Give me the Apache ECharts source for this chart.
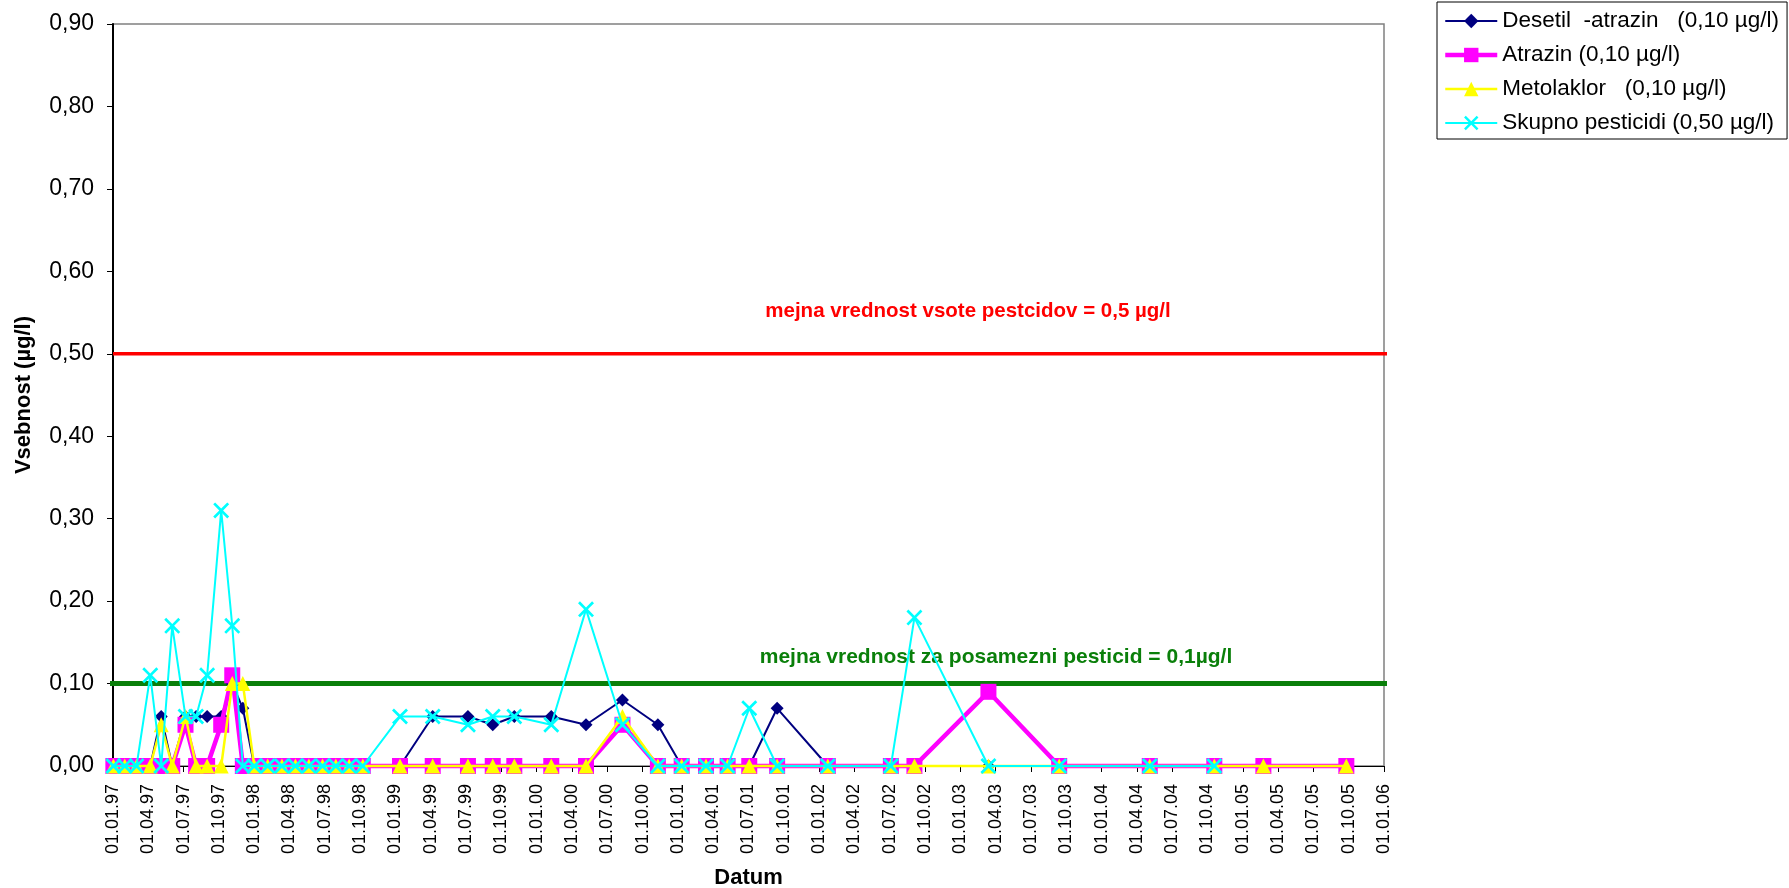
<!DOCTYPE html>
<html><head><meta charset="utf-8">
<script src="https://cdn.jsdelivr.net/npm/echarts@6/dist/echarts.min.js"></script>
<style>html,body{margin:0;padding:0;background:#fff}#c{width:1789px;height:888px}</style>
</head><body><div id="c"></div>
<script>
// sampling dates (dd.mm.yy)
const sampleDates = [
  '1997-01-02','1997-02-01','1997-03-01','1997-04-06','1997-05-04','1997-06-02',
  '1997-07-06','1997-08-03','1997-09-01','1997-10-07','1997-11-05','1997-12-02',
  '1998-01-01','1998-02-05','1998-03-12','1998-04-16','1998-05-21','1998-06-25',
  '1998-07-30','1998-09-03','1998-10-08',
  '1999-01-13','1999-04-06','1999-07-06','1999-09-09','1999-11-04',
  '2000-02-08','2000-05-07','2000-08-10','2000-11-10',
  '2001-01-11','2001-03-13','2001-05-08','2001-07-03','2001-09-14',
  '2002-01-24','2002-07-04','2002-09-04',
  '2003-03-13','2003-09-13','2004-05-04','2004-10-19','2005-02-22','2005-09-25'
];
const desetilAtrazin = [
  0,0,0,0,0.06,0, 0.06,0.06,0.06,0.06,0.10,0.07,
  0,0,0,0,0,0, 0,0,0,
  0,0.06,0.06,0.05,0.06,
  0.06,0.05,0.08,0.05,
  0,0,0,0,0.07,
  0,0,0,
  0,0,0,0,null,null
];
const atrazin = [
  0,0,0,0,0,0, 0.05,0,0,0.05,0.11,0,
  0,0,0,0,0,0, 0,0,0,
  0,0,0,0,0,
  0,0,0.05,0,
  0,0,0,0,0,
  0,0,0,
  0.09,0,0,0,0,0
];
const metolaklor = [
  0,0,0,0,0.05,0, 0.06,0,0,0,0.10,0.10,
  0,0,0,0,0,0, 0,0,0,
  0,0,0,0,0,
  0,0,0.06,0,
  0,0,0,0,0,
  0,0,0,
  0,0,0,0,0,0
];
const skupnoPesticidi = [
  0,0,0,0.11,0,0.17, 0.06,0.06,0.11,0.31,0.17,0,
  0,0,0,0,0,0, 0,0,0,
  0.06,0.06,0.05,0.06,0.06,
  0.05,0.19,0.05,0,
  0,0,0,0.07,0,
  0,0,0.18,
  0,0,0,0,null,null
];
const seriesNames = [
  'Desetil  -atrazin   (0,10 µg/l)',
  'Atrazin (0,10 µg/l)',
  'Metolaklor   (0,10 µg/l)',
  'Skupno pesticidi (0,50 µg/l)'
];
const limitSum = 0.5;      // mejna vrednost vsote pesticidov
const limitSingle = 0.1;   // mejna vrednost za posamezni pesticid
const limitSumLabel = 'mejna vrednost vsote pestcidov = 0,5 µg/l';
const limitSingleLabel = 'mejna vrednost za posamezni pesticid = 0,1µg/l';
const axisStart = '1997-01-01', axisEnd = '2006-01-01';

function monthIndex(s) {
  const [y, m, d] = s.split('-').map(Number);
  const dim = new Date(y, m, 0).getDate();
  return (y - 1997) * 12 + (m - 1) + (d - 1) / dim;
}
function pairs(vals) {
  const out = [];
  vals.forEach((v, i) => { if (v !== null) out.push([monthIndex(sampleDates[i]), v]); });
  return out;
}
const pad = n => (n < 10 ? '0' : '') + n;
const xMin = monthIndex(axisStart), xMax = monthIndex(axisEnd);

const FONT = 'Liberation Sans, Arial, sans-serif';
const chart = echarts.init(document.getElementById('c'), null, {renderer: 'canvas'});
const xPath = 'path://M0,1.2L1.2,0L5,3.8L8.8,0L10,1.2L6.2,5L10,8.8L8.8,10L5,6.2L1.2,10L0,8.8L3.8,5Z';

const styles = [
  {color: '#000080', symbol: 'diamond', size: 13, width: 2},
  {color: '#FF00FF', symbol: 'rect', size: 16, width: 4.5},
  {color: '#FFFF00', symbol: 'triangle', size: 15, width: 2.5},
  {color: '#00FFFF', symbol: xPath, size: 16, width: 2}
];
const dataSets = [desetilAtrazin, atrazin, metolaklor, skupnoPesticidi];

const series = [
  {
    name: 'limitSum', type: 'line', data: [[xMin, limitSum], [xMax + 0.7, limitSum]],
    symbol: 'none', clip: false, silent: true, z: 1,
    lineStyle: {color: '#FF0000', width: 3.5}
  },
  {
    name: 'limitSingle', type: 'line', data: [[xMin - 0.2, limitSingle], [xMax + 0.7, limitSingle]],
    symbol: 'none', clip: false, silent: true, z: 1,
    lineStyle: {color: '#0A7F0A', width: 5, cap: 'round'}
  }
];
dataSets.forEach((vals, i) => {
  const s = styles[i];
  series.push({
    name: seriesNames[i], type: 'line', data: pairs(vals),
    symbol: s.symbol, symbolSize: s.size, showAllSymbol: true, clip: false,
    z: 2 + i,
    lineStyle: {color: s.color, width: s.width},
    itemStyle: {color: s.color, opacity: 1},
    emphasis: {disabled: true}
  });
});

chart.setOption({
  animation: false,
  backgroundColor: '#fff',
  grid: {left: 113, right: 405, top: 24, bottom: 122, show: true, borderColor: '#808080', borderWidth: 1.5,
         containLabel: false, outerBoundsMode: 'none'},
  legend: {
    data: seriesNames.map((n, i) => ({name: n, lineStyle: {width: styles[i].width, color: styles[i].color}})),
    orient: 'vertical', left: 1437, top: 2,
    backgroundColor: '#fff', borderColor: '#000', borderWidth: 1,
    padding: [7, 8, 4, 6], itemWidth: 52, itemHeight: 18, itemGap: 10,
    textStyle: {fontFamily: FONT, fontSize: 22.5, color: '#000', lineHeight: 24},
    selectedMode: false
  },
  xAxis: {
    type: 'value', min: xMin, max: xMax, interval: 3,
    name: 'Datum', nameLocation: 'middle', nameGap: 101,
    nameTextStyle: {fontFamily: FONT, fontSize: 22, fontWeight: 'bold', color: '#000'},
    axisLine: {lineStyle: {color: '#000', width: 1}},
    axisTick: {length: 6, lineStyle: {color: '#000'}},
    splitLine: {show: false},
    axisLabel: {
      rotate: 90, margin: 18, fontFamily: FONT, fontSize: 18, color: '#000',
      formatter: v => {
        const m = Math.round(v);
        const y = 1997 + Math.floor(m / 12);
        return '01.' + pad(m % 12 + 1) + '.' + pad(y % 100);
      }
    }
  },
  yAxis: {
    type: 'value', min: 0, max: 0.9, interval: 0.1,
    name: 'Vsebnost (µg/l)', nameLocation: 'middle', nameGap: 78, nameRotate: 90,
    nameTextStyle: {fontFamily: FONT, fontSize: 22, fontWeight: 'bold', color: '#000'},
    axisLine: {show: true, lineStyle: {color: '#000', width: 2}},
    axisTick: {show: true, length: 6, lineStyle: {color: '#000'}},
    splitLine: {show: false},
    axisLabel: {
      margin: 19, fontFamily: FONT, fontSize: 23, color: '#000',
      formatter: v => v.toFixed(2).replace('.', ',')
    }
  },
  graphic: [
    {type: 'text', x: 968, y: 311, style: {text: limitSumLabel, fill: '#FF0000',
      font: 'bold 20.5px ' + FONT, textAlign: 'center', textVerticalAlign: 'middle'}},
    {type: 'text', x: 996, y: 657, style: {text: limitSingleLabel, fill: '#0A7F0A',
      font: 'bold 21px ' + FONT, textAlign: 'center', textVerticalAlign: 'middle'}}
  ],
  series: series
});
</script></body></html>
